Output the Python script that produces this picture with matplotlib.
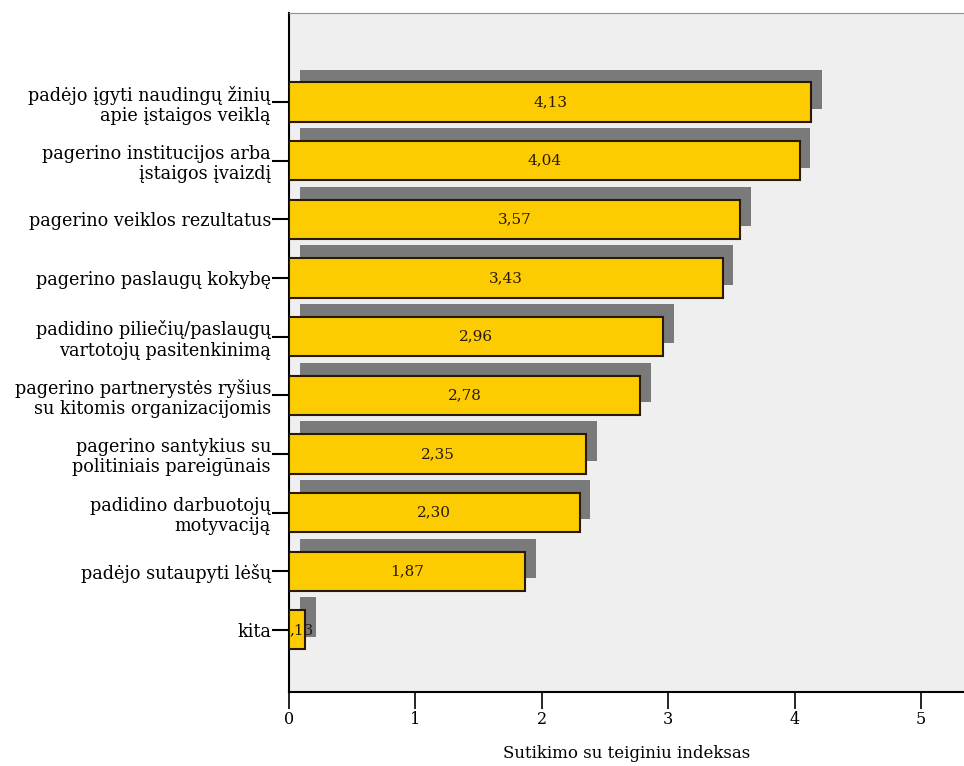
import matplotlib.pyplot as plt
import numpy as np

plt.rcParams['font.family'] = ['DejaVu Serif']

categories = [
    "padėjo įgyti naudingų žinių\napie įstaigos veiklą",
    "pagerino institucijos arba\nįstaigos įvaizdį",
    "pagerino veiklos rezultatus",
    "pagerino paslaugų kokybę",
    "padidino piliečių/paslaugų\nvartotojų pasitenkinimą",
    "pagerino partnerystės ryšius\nsu kitomis organizacijomis",
    "pagerino santykius su\npolitiniais pareigūnais",
    "padidino darbuotojų\nmotyvaciją",
    "padėjo sutaupyti lėšų",
    "kita",
]
values = [4.13, 4.04, 3.57, 3.43, 2.96, 2.78, 2.35, 2.30, 1.87, 0.13]
labels = ["4,13", "4,04", "3,57", "3,43", "2,96", "2,78", "2,35", "2,30", "1,87", ",13"]
xticks = [0, 1, 2, 3, 4, 5]

fig = plt.figure(figsize=(9.64, 7.66), dpi=100)
ax = fig.add_axes([289 / 964, 74 / 766, 675 / 964, 679 / 766])
ax.set_facecolor('#efefef')

y = np.arange(len(categories))
bar_h = 0.67

# shadow bars behind, shifted right and up
ax.barh(y - 0.22, values, height=bar_h, left=0.085, color='#7a7a7a', zorder=2)
ax.barh(y, values, height=bar_h, color='#fccc00', edgecolor='#2a1a05',
        linewidth=1.5, zorder=3)

for yi, v, lab in zip(y, values, labels):
    ax.text(v / 2 if v > 0.5 else 0.1, yi, lab, ha='center', va='center',
            fontsize=11, color='#2a1a05', zorder=4)

ax.set_xlim(0, 675 / 126.4)
ax.set_ylim(10.06, -1.52)
ax.set_yticks(y)
ax.set_yticklabels(categories, fontsize=12.7, linespacing=1.17)
ax.set_xticks(xticks)
ax.set_xticklabels([str(t) for t in xticks], fontsize=11.5)
ax.tick_params(axis='y', length=12, width=1.5, pad=1)
ax.tick_params(axis='x', length=12, width=1.2, pad=2)
ax.set_xlabel("Sutikimo su teiginiu indeksas", fontsize=12, labelpad=12)

ax.spines['right'].set_visible(False)
ax.spines['top'].set_color('#909090')
ax.spines['left'].set_linewidth(1.5)
ax.spines['bottom'].set_linewidth(1.5)

fig.savefig('out.png', dpi=100)
